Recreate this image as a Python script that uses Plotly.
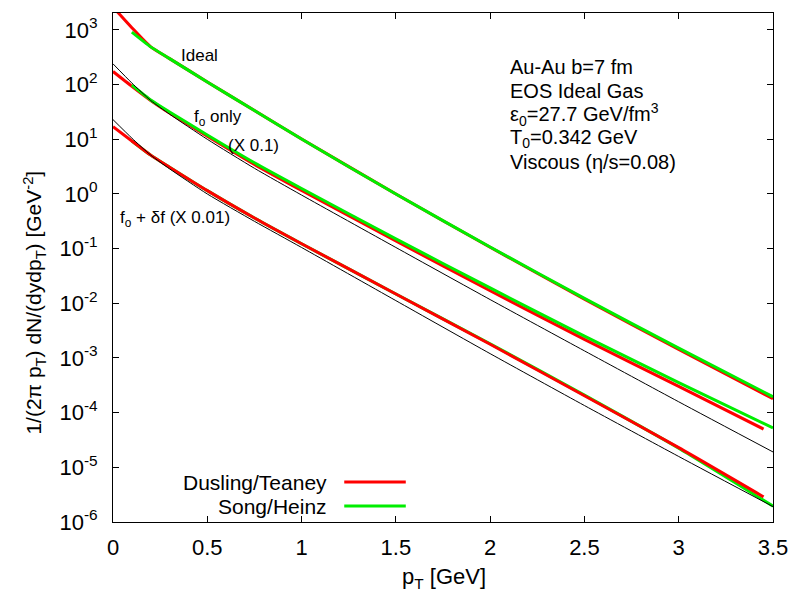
import plotly.graph_objects as go

# transverse momentum grid [GeV]
pt = [0.0, 0.1, 0.2, 0.3, 0.5, 0.75, 1.0, 1.5, 2.0, 2.5, 3.0, 3.5]
pt_dt = [0.0, 0.1, 0.2, 0.3, 0.5, 0.75, 1.0, 1.5, 2.0, 2.5, 3.0, 3.45]
pt_sh = [0.1, 0.2, 0.3, 0.5, 0.75, 1.0, 1.5, 2.0, 2.5, 3.0, 3.5]

# Ideal hydro spectra [GeV^-2]
ideal_dt = [2630, 1100, 490, 299, 112, 33.5, 10.1, 1.00, 0.106, 0.0119, 0.00143, 0.000180]
ideal_sh = [912, 490, 299, 112, 33.5, 10.1, 1.00, 0.107, 0.0123, 0.00151, 0.000195]

# f0 only, scaled by 0.1
f0_dt = [174, 93.3, 51.3, 30.2, 11.4, 3.47, 1.16, 0.138, 0.0170, 0.00219, 0.000302, 5.01e-5]
f0_sh = [97.7, 52.5, 31.6, 12.0, 3.72, 1.26, 0.151, 0.0191, 0.00251, 0.000355, 5.25e-5]
f0_ref = [240, 107, 51.3, 28.8, 10.0, 2.95, 0.955, 0.105, 0.0117, 0.00135, 0.000158, 1.91e-5]

# f0 + delta f, scaled by 0.01
df_dt = [17.0, 9.33, 5.13, 3.09, 1.15, 0.363, 0.123, 0.0148, 0.00178, 0.000204, 2.29e-5, 2.88e-6]
df_sh = [9.33, 5.13, 3.09, 1.15, 0.363, 0.123, 0.0148, 0.00182, 0.000209, 2.24e-5, 1.95e-6]
df_ref = [22.9, 10.5, 5.13, 2.88, 1.00, 0.316, 0.105, 0.0112, 0.00120, 0.000135, 1.58e-5, 1.91e-6]

ytick_vals = [1e-6, 1e-5, 1e-4, 1e-3, 1e-2, 1e-1, 1e0, 1e1, 1e2, 1e3]
ytick_text = ["10<sup>-6</sup>", "10<sup>-5</sup>", "10<sup>-4</sup>", "10<sup>-3</sup>",
              "10<sup>-2</sup>", "10<sup>-1</sup>", "10<sup>0</sup>", "10<sup>1</sup>",
              "10<sup>2</sup>", "10<sup>3</sup>"]
xtick_vals = [0, 0.5, 1, 1.5, 2, 2.5, 3, 3.5]
xtick_text = ["0", "0.5", "1", "1.5", "2", "2.5", "3", "3.5"]

RED = "#ff0000"
GREEN = "#00ee00"
FONT = "Liberation Sans, Arial, sans-serif"


def curve(xs, ys, color, width):
    return go.Scatter(x=xs, y=ys, mode="lines", showlegend=False, hoverinfo="skip",
                      line=dict(color=color, width=width, shape="spline", smoothing=0.6))


fig = go.Figure()
# Ideal: green drawn over red
fig.add_trace(curve(pt, ideal_dt, RED, 3))
fig.add_trace(curve(pt_sh, ideal_sh, GREEN, 3))
# f0 only: green over red
fig.add_trace(curve(pt_dt, f0_dt, RED, 3))
fig.add_trace(curve(pt_sh, f0_sh, GREEN, 3))
# f0 + delta f: red over green
fig.add_trace(curve(pt_sh, df_sh, GREEN, 3))
fig.add_trace(curve(pt_dt, df_dt, RED, 3))
# thin black reference curves
fig.add_trace(curve(pt, f0_ref, "black", 1))
fig.add_trace(curve(pt, df_ref, "black", 1))

# pixel geometry of the plotting box
L, R, T, B = 113, 778, 13, 522
W, H = R - L, B - T


def px(x):
    return (x - L) / W


def py(y):
    return (B - y) / H


ann = []


def text(x, y, s, size, xanchor="left", angle=0):
    ann.append(dict(x=px(x), y=py(y), xref="paper", yref="paper", text=s, showarrow=False,
                    xanchor=xanchor, yanchor="middle", textangle=angle,
                    font=dict(family=FONT, size=size, color="black")))


# curve labels
text(180, 56, "Ideal", 17)
text(193, 118, "f<sub>o</sub> only", 17)
text(227, 145, "(X 0.1)", 17)
text(118, 219, "f<sub>o</sub> + δf (X 0.01)", 17)

# parameter block
info = ["Au-Au b=7 fm", "EOS Ideal Gas", "ε<sub>0</sub>=27.7 GeV/fm<sup>3</sup>",
        "T<sub>0</sub>=0.342 GeV", "Viscous (η/s=0.08)"]
for i, s in enumerate(info):
    text(511, 67 + i * 23.7, s, 20)

# legend
shapes = []
for i, (name, col) in enumerate([("Dusling/Teaney", RED), ("Song/Heinz", GREEN)]):
    yy = 482 + i * 24
    text(331, yy, name, 21, xanchor="right")
    shapes.append(dict(type="line", xref="paper", yref="paper", x0=px(346), x1=px(408),
                       y0=py(yy), y1=py(yy), line=dict(color=col, width=3)))

# axis titles
text(447, 578, "p<sub>T</sub> [GeV]", 22, xanchor="center")
text(34, 303, "1/(2π p<sub>T</sub>) dN/(dydp<sub>T</sub>) [GeV<sup>-2</sup>]", 21,
     xanchor="center", angle=-90)

axis_common = dict(showline=True, linecolor="black", linewidth=1, mirror="allticks",
                   ticks="inside", ticklen=6, tickcolor="black", showgrid=False,
                   zeroline=False, tickfont=dict(family=FONT, size=22, color="black"))

fig.update_layout(
    width=800, height=595,
    margin=dict(l=L, r=800 - R, t=T, b=595 - B),
    paper_bgcolor="white", plot_bgcolor="white",
    xaxis=dict(range=[0, 3.5], tickvals=xtick_vals, ticktext=xtick_text,
               ticklabelstandoff=6, **axis_common),
    yaxis=dict(type="log", range=[-6, 3.31], tickvals=ytick_vals, ticktext=ytick_text,
               ticklabelstandoff=10, **axis_common),
    annotations=ann, shapes=shapes, showlegend=False,
)

fig.write_html("out.html", config={"displayModeBar": False})
